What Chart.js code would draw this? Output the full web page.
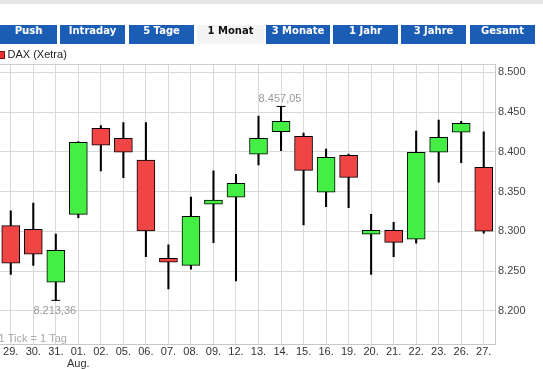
<!DOCTYPE html>
<html>
<head>
<meta charset="utf-8">
<script src="https://cdn.jsdelivr.net/npm/chart.js@4.4.0/dist/chart.umd.min.js"></script>
<style>
html,body{margin:0;padding:0;width:543px;height:369px;overflow:hidden;background:#fff;font-family:"Liberation Sans",Arial,sans-serif;}
#topband{position:absolute;left:0;top:0;width:543px;height:4px;background:#e6e6e6;}
.tab{position:absolute;top:25px;height:19px;line-height:19px;text-align:center;background:#1b5cb5;color:#fff;font:bold 10px "DejaVu Sans",Verdana,sans-serif;z-index:2;}
.tab.active{background:#f4f4f4;color:#111;}
#legend{position:absolute;left:0;top:47px;height:14px;z-index:2;font:11px "Liberation Sans",Arial,sans-serif;color:#222;}
#legend .sw{position:absolute;left:-2px;top:4px;width:5px;height:6px;background:#e83232;border:1px solid #7a1010;}
#legend .tx{position:absolute;left:7.5px;top:0;white-space:nowrap;line-height:14px;}
#wrap{position:absolute;left:-6px;top:0;width:549px;height:369px;z-index:1;}
</style>
</head>
<body>
<div id="topband"></div>
<div id="tabs"></div>
<div id="legend"><span class="sw"></span><span class="tx">DAX (Xetra)</span></div>
<div id="wrap"><canvas id="c"></canvas></div>
<script>
// ---- data ----
const dates  = ['29.','30.','31.','01.','02.','05.','06.','07.','08.','09.','12.','13.','14.','15.','16.','19.','20.','21.','22.','23.','26.','27.'];
const months = ['','','','Aug.','','','','','','','','','','','','','','','','','',''];
const open   = [8307.2,8302.7,8236.1,8321.5,8429.6,8417.1,8389.8,8266.2,8257.4,8334.1,8342.9,8397.0,8425.3,8419.6,8349.2,8395.7,8296.4,8301.4,8290.1,8399.5,8424.6,8380.6];
const high   = [8326.0,8335.7,8296.8,8413.0,8432.9,8436.7,8436.7,8283.0,8343.3,8376.0,8371.8,8445.1,8457.05,8423.7,8403.6,8397.3,8321.5,8311.5,8426.2,8440.0,8438.4,8425.0];
const low    = [8246.0,8257.4,8213.36,8317.3,8376.0,8367.5,8268.2,8227.7,8252.4,8285.8,8237.7,8383.5,8401.5,8308.1,8331.1,8329.8,8246.1,8268.2,8285.1,8361.8,8386.4,8297.7];
const close  = [8260.0,8271.3,8276.3,8412.0,8408.3,8399.5,8300.5,8261.2,8319.0,8339.5,8360.5,8417.1,8438.4,8376.8,8393.2,8368.0,8301.4,8286.3,8399.5,8418.3,8435.9,8300.2];
const yTicks = [8200,8250,8300,8350,8400,8450,8500];
const tabNames = ['Push','Intraday','5 Tage','1 Monat','3 Monate','1 Jahr','3 Jahre','Gesamt'];
const activeTab = '1 Monat';
const noteText = '1 Tick = 1 Tag';

// ---- tabs ----
const tabPos = [[0,57],[60,125],[129,194],[197,264],[266,330],[333,398],[401,466],[470,535]];
const tabsEl = document.getElementById('tabs');
tabNames.forEach((n,i)=>{
  const d=document.createElement('div');
  d.className='tab'+(n===activeTab?' active':'');
  d.style.left=tabPos[i][0]+'px';
  d.style.width=(tabPos[i][1]-tabPos[i][0])+'px';
  d.textContent=n;
  tabsEl.appendChild(d);
});

function de(v,dec){
  const neg=v<0; v=Math.abs(v);
  let s=v.toFixed(dec);
  let [ip,fp]=s.split('.');
  ip=ip.replace(/\B(?=(\d{3})+(?!\d))/g,'.');
  return (neg?'-':'')+ip+(fp?','+fp:'');
}

const labels = dates.map((d,i)=>months[i]?[d,months[i]]:d);
const GREEN='#44ee44', RED='#f04545';
let hiIdx=0, loIdx=0;
high.forEach((h,i)=>{ if(h>high[hiIdx]) hiIdx=i; });
low.forEach((l,i)=>{ if(l<low[loIdx]) loIdx=i; });

const extras={
  id:'extras',
  beforeDatasetsDraw(chart){
    const {ctx,chartArea:a}=chart;
    ctx.save();
    ctx.strokeStyle='#cfcfcf'; ctx.lineWidth=1;
    ctx.beginPath();
    const yt=Math.round(a.top)+0.5;
    ctx.moveTo(a.left,yt); ctx.lineTo(a.right,yt); ctx.stroke();
    ctx.restore();
  },
  afterDatasetsDraw(chart){
    const {ctx,chartArea:a,scales:{x,y}}=chart;
    ctx.save();
    ctx.font='11px "Liberation Sans", Arial, sans-serif';
    ctx.fillStyle='#9a9a9a';
    ctx.textAlign='center';
    ctx.textBaseline='alphabetic';
    ctx.fillText(de(high[hiIdx],2), x.getPixelForValue(hiIdx)-1, y.getPixelForValue(high[hiIdx])-4);
    ctx.fillText(de(low[loIdx],2), x.getPixelForValue(loIdx)-1, y.getPixelForValue(low[loIdx])+14);
    ctx.textAlign='left';
    ctx.textBaseline='middle';
    ctx.fillStyle='#a8a8a8';
    ctx.fillText(noteText, a.left-1, a.bottom-5);
    ctx.restore();
  }
};

new Chart(document.getElementById('c'),{
  type:'bar',
  data:{
    labels:labels,
    datasets:[
      {
        label:'body',
        data:open.map((o,i)=>[o,close[i]]),
        backgroundColor:open.map((o,i)=>close[i]>=o?GREEN:RED),
        borderColor:'#000',
        borderWidth:1,
        borderSkipped:false,
        barThickness:18,
        grouped:false
      },
      {
        type:'line',
        label:'caps',
        data:dates.map((_,i)=>i===hiIdx?high[i]:(i===loIdx?low[i]:null)),
        showLine:false,
        pointStyle:'line',
        pointRadius:4.5,
        borderColor:'#000',
        borderWidth:1
      },
      {
        label:'wick',
        data:low.map((l,i)=>[l,high[i]]),
        backgroundColor:'#000',
        borderWidth:0,
        barThickness:1.4,
        grouped:false
      }
    ]
  },
  options:{
    responsive:true,
    maintainAspectRatio:false,
    animation:false,
    events:[],
    layout:{padding:{top:64,left:0,right:0,bottom:0}},
    plugins:{legend:{display:false},tooltip:{enabled:false}},
    scales:{
      x:{
        offset:true,
        grid:{offset:false,color:'#d9d9d9',drawTicks:false},
        border:{color:'#c8c8c8'},
        ticks:{autoSkip:false,maxRotation:0,minRotation:0,padding:2,color:'#333',font:{family:'"Liberation Sans", Arial, sans-serif',size:11,lineHeight:1.1}},
        afterFit(s){ s.height=25; }
      },
      y:{
        position:'right',
        min:8158.5,
        max:8510.4,
        grid:{color:'#d9d9d9',drawTicks:false},
        border:{color:'#c8c8c8'},
        afterBuildTicks(s){ s.ticks=yTicks.map(v=>({value:v})); },
        ticks:{padding:3,color:'#444',font:{family:'"Liberation Sans", Arial, sans-serif',size:11},callback:v=>de(v,0)},
        afterFit(s){ s.width=48; }
      }
    }
  },
  plugins:[extras]
});
</script>
</body>
</html>
